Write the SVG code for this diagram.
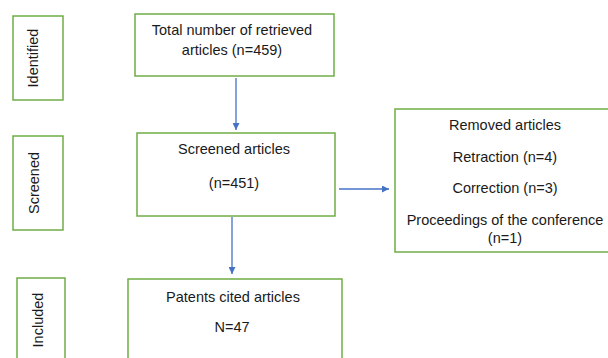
<svg xmlns="http://www.w3.org/2000/svg" width="608" height="358" viewBox="0 0 608 358">
<defs>
<style>
.box{fill:#ffffff;stroke:#70ad47;stroke-width:1.5}
.t{font-family:"Liberation Sans",Arial,sans-serif;font-size:14.5px;fill:#1a1a1a;text-anchor:middle}
.c{stroke:#4472c4;stroke-width:1.3;fill:none}
</style>
<marker id="ah" viewBox="0 0 10 10" refX="10" refY="5" markerWidth="7" markerHeight="7" markerUnits="userSpaceOnUse" orient="auto">
<path d="M0,0 L10,5 L0,10 z" fill="#4472c4"/>
</marker>
</defs>
<rect width="608" height="358" fill="#ffffff"/>
<g id="identified">
<rect class="box" x="13" y="16" width="50" height="84"/>
<text class="t" transform="translate(38,58) rotate(-90)">Identified</text>
</g>
<g id="screened-label">
<rect class="box" x="13" y="136" width="50" height="94"/>
<text class="t" transform="translate(39,183) rotate(-90)">Screened</text>
</g>
<g id="included-label">
<rect class="box" x="17" y="278" width="48" height="90"/>
<text class="t" transform="translate(43,320) rotate(-90)">Included</text>
</g>
<g id="total">
<rect class="box" x="135" y="14" width="199" height="62"/>
<text class="t" x="232" y="35">Total number of retrieved</text>
<text class="t" x="232" y="55">articles (n=459)</text>
</g>
<g id="screened">
<rect class="box" x="137" y="133" width="198" height="83"/>
<text class="t" x="234" y="154">Screened articles</text>
<text class="t" x="234" y="188">(n=451)</text>
</g>
<g id="removed">
<rect class="box" x="395" y="109" width="230" height="143"/>
<text class="t" x="505" y="130">Removed articles</text>
<text class="t" x="505" y="162">Retraction (n=4)</text>
<text class="t" x="505" y="193">Correction (n=3)</text>
<text class="t" x="505" y="225">Proceedings of the conference</text>
<text class="t" x="505" y="243">(n=1)</text>
</g>
<g id="patents">
<rect class="box" x="128" y="279" width="214" height="90"/>
<text class="t" x="233" y="302">Patents cited articles</text>
<text class="t" x="232" y="332">N=47</text>
</g>
<g id="connectors">
<line class="c" x1="236" y1="78" x2="236" y2="130" marker-end="url(#ah)"/>
<line class="c" x1="232" y1="217" x2="232" y2="274" marker-end="url(#ah)"/>
<line class="c" x1="339" y1="189" x2="389" y2="189" marker-end="url(#ah)"/>
</g>
</svg>
